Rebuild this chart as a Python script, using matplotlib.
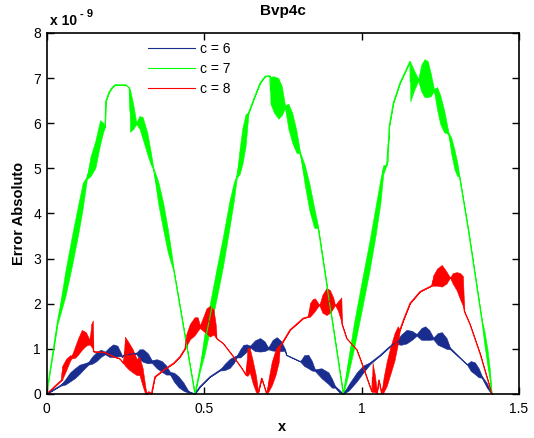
import matplotlib
matplotlib.use('Agg')
import matplotlib.pyplot as plt
import numpy as np

plt.rcParams['font.family'] = ['Liberation Sans', 'DejaVu Sans']

# ---- data (values in units of 1e-9) ----
# c = 6 : centre line, and half-thickness of the fast-oscillation band
c6_x = [0, 0.043, 0.06, 0.075, 0.09, 0.105, 0.12, 0.133, 0.145, 0.159, 0.172, 0.186, 0.2, 0.212, 0.225, 0.237, 0.24, 0.245, 0.286, 0.295, 0.307, 0.322, 0.334, 0.35, 0.366, 0.38, 0.392, 0.405, 0.419, 0.435, 0.45, 0.471,
        0.487, 0.519, 0.551, 0.566, 0.582, 0.595, 0.604, 0.615, 0.625, 0.636, 0.646, 0.662, 0.678, 0.692, 0.704, 0.718, 0.731, 0.745, 0.757, 0.762, 0.805, 0.818, 0.831, 0.842, 0.852, 0.873, 0.895, 0.906, 0.916, 0.93, 0.942,
        0.96, 0.985, 1.005, 1.027, 1.06, 1.09, 1.106, 1.125, 1.143, 1.16, 1.175, 1.19, 1.202, 1.215, 1.228, 1.242, 1.255, 1.27, 1.281, 1.334, 1.347, 1.36, 1.372, 1.382, 1.398, 1.4137]
c6_y = [0, 0.18, 0.27, 0.38, 0.46, 0.55, 0.62, 0.68, 0.75, 0.83, 0.9, 0.91, 0.93, 0.96, 0.95, 0.87, 0.82, 0.86, 0.9, 0.88, 0.85, 0.79, 0.72, 0.67, 0.61, 0.53, 0.46, 0.37, 0.27, 0.16, 0.05, 0,
        0.16, 0.38, 0.53, 0.6, 0.68, 0.76, 0.83, 0.9, 0.98, 1.02, 1.05, 1.07, 1.09, 1.06, 1.01, 1.08, 1.11, 1.06, 0.98, 0.86, 0.72, 0.74, 0.72, 0.63, 0.53, 0.46, 0.35, 0.24, 0.16, 0.06, 0,
        0.15, 0.38, 0.55, 0.68, 0.86, 1.05, 1.12, 1.2, 1.27, 1.3, 1.31, 1.33, 1.35, 1.31, 1.23, 1.22, 1.21, 1.12, 1.01, 0.66, 0.62, 0.57, 0.47, 0.38, 0.19, 0]
c6_w = [0, 0, 0.06, 0.1, 0.11, 0.1, 0.06, 0.03, 0.08, 0.1, 0.08, 0.03, 0.11, 0.14, 0.12, 0.03, 0, 0, 0.02, 0.11, 0.14, 0.11, 0.03, 0.1, 0.12, 0.1, 0.03, 0.1, 0.12, 0.09, 0.02, 0,
        0, 0, 0.01, 0.07, 0.1, 0.07, 0.02, 0.09, 0.11, 0.08, 0.02, 0.12, 0.15, 0.11, 0.02, 0.12, 0.15, 0.11, 0.02, 0, 0, 0.12, 0.15, 0.11, 0.02, 0.11, 0.13, 0.1, 0.02, 0.03, 0,
        0.07, 0.1, 0.08, 0.02, 0, 0, 0, 0.11, 0.15, 0.1, 0.02, 0.13, 0.15, 0.11, 0.02, 0.13, 0.16, 0.12, 0.02, 0, 0.11, 0.13, 0.1, 0.02, 0.05, 0]

# c = 7
c7_x = [0, 0.035, 0.06, 0.08, 0.1, 0.115, 0.128, 0.14, 0.155, 0.17, 0.18, 0.186, 0.188, 0.198, 0.207, 0.217, 0.252, 0.263, 0.265, 0.275, 0.285, 0.295, 0.305, 0.32, 0.33, 0.339, 0.355, 0.37, 0.385, 0.395, 0.405,
        0.471, 0.487, 0.5, 0.52, 0.54, 0.56, 0.58, 0.595, 0.604, 0.613, 0.622, 0.632, 0.641, 0.657, 0.678, 0.694, 0.709, 0.711, 0.722, 0.736, 0.747, 0.757, 0.768, 0.78, 0.793, 0.805, 0.82, 0.835, 0.85, 0.862,
        0.942, 0.955, 0.975, 1.0, 1.025, 1.045, 1.06, 1.069, 1.08, 1.083, 1.086, 1.088, 1.101, 1.122, 1.154, 1.155, 1.167, 1.18, 1.19, 1.2, 1.21, 1.22, 1.23, 1.24, 1.25, 1.262, 1.276, 1.285, 1.295, 1.304, 1.311, 1.339, 1.382, 1.39, 1.4, 1.407, 1.4137]
c7_y = [0, 1.6, 2.45, 3.15, 3.85, 4.4, 4.79, 5.05, 5.31, 5.8, 5.91, 5.92, 6.48, 6.68, 6.78, 6.85, 6.85, 6.78, 6.28, 6.15, 6.0, 6.02, 5.9, 5.55, 5.25, 5.0, 4.45, 3.95, 3.4, 3.05, 2.7,
        0, 0.55, 1.05, 1.75, 2.45, 3.15, 3.95, 4.5, 4.82, 5.15, 5.5, 5.85, 6.22, 6.52, 6.89, 7.04, 7.05, 6.73, 6.64, 6.55, 6.5, 6.37, 6.15, 5.9, 5.6, 5.34, 4.85, 4.35, 3.9, 3.7,
        0, 0.5, 1.25, 2.15, 3.05, 3.85, 4.5, 4.97, 5.08, 5.35, 5.63, 5.93, 6.45, 6.89, 7.37, 6.92, 6.95, 6.96, 7.0, 7.0, 6.98, 6.85, 6.74, 6.55, 6.3, 6.05, 5.78, 5.5, 5.2, 4.98, 4.82, 3.64, 1.64, 1.25, 0.8, 0.45, 0]
c7_w = [0, 0.05, 0.28, 0.33, 0.33, 0.28, 0.03, 0.22, 0.3, 0.27, 0.1, 0, 0, 0, 0, 0, 0, 0, 0.47, 0.28, 0.02, 0.14, 0.24, 0.24, 0.15, 0.02, 0.25, 0.3, 0.26, 0.15, 0,
        0, 0.05, 0.22, 0.3, 0.33, 0.33, 0.3, 0.2, 0.03, 0.28, 0.4, 0.35, 0.02, 0, 0, 0, 0, 0.3, 0.4, 0.45, 0.32, 0.03, 0.28, 0.33, 0.25, 0.02, 0.22, 0.3, 0.22, 0.02,
        0, 0.15, 0.28, 0.32, 0.33, 0.32, 0.26, 0.1, 0, 0.2, 0, 0, 0, 0, 0, 0.44, 0.22, 0.02, 0.3, 0.42, 0.4, 0.25, 0.02, 0.25, 0.32, 0.25, 0.02, 0.18, 0.22, 0.15, 0, 0, 0, 0.15, 0.18, 0.12, 0]

# c = 8
c8_x = [0, 0.048, 0.049, 0.062, 0.075, 0.08, 0.09, 0.1, 0.112, 0.125, 0.137, 0.142, 0.147, 0.149,
        0.17, 0.186, 0.212, 0.233, 0.244, 0.249, 0.26, 0.273, 0.286, 0.295, 0.305, 0.314, 0.318, 0.325, 0.333, 0.344, 0.371, 0.403, 0.424, 0.44,
        0.443, 0.455, 0.47, 0.48, 0.487, 0.497, 0.508, 0.519, 0.53, 0.537, 0.54, 0.561, 0.593, 0.62, 0.633,
        0.638, 0.645, 0.655, 0.665, 0.672, 0.683, 0.699, 0.705, 0.715, 0.727, 0.737, 0.741, 0.773, 0.815, 0.831,
        0.836, 0.845, 0.852, 0.86, 0.866, 0.876, 0.889, 0.9, 0.91, 0.916, 0.925, 0.936, 0.938, 0.953, 0.985, 1.0, 1.025, 1.033,
        1.035, 1.043, 1.049, 1.055, 1.064,
        1.07, 1.08, 1.092, 1.105, 1.115, 1.122, 1.133, 1.154, 1.186, 1.223, 1.227, 1.24, 1.255, 1.27, 1.281, 1.29, 1.302, 1.313, 1.322, 1.326, 1.329, 1.344, 1.376, 1.4137]
c8_y = [0, 0.31, 0.46, 0.65, 0.8, 0.82, 0.92, 1.05, 1.2, 1.22, 1.15, 1.3, 1.32, 0.94,
        0.93, 0.92, 0.83, 0.78, 0.68, 0.95, 0.85, 0.74, 0.6, 0.62, 0.38, 0.07, 0, 0.05, 0, 0.38, 0.53, 0.68, 0.83, 1.01,
        1.18, 1.38, 1.5, 1.55, 1.49, 1.55, 1.62, 1.61, 1.6, 1.4, 1.23, 1.12, 0.83, 0.57, 0.42,
        0.72, 0.75, 0.48, 0.22, 0.03, 0.35, 0, 0.2, 0.45, 0.7, 0.9, 1.05, 1.42, 1.68, 1.71,
        1.86, 1.94, 1.98, 1.98, 1.97, 2.0, 2.05, 2.05, 2.02, 1.97, 1.95, 1.87, 1.55, 1.23, 0.98, 0.7, 0.2, 0.05,
        0.37, 0.22, 0.02, 0.31, 0,
        0.2, 0.45, 0.75, 1.05, 1.3, 1.42, 1.64, 2.01, 2.27, 2.4, 2.51, 2.59, 2.62, 2.58, 2.58, 2.56, 2.5, 2.39, 2.28, 1.85, 1.79, 1.55, 0.9, 0]
c8_w = [0, 0, 0.15, 0.13, 0.06, 0.03, 0.12, 0.18, 0.22, 0.15, 0.05, 0.25, 0.31, 0,
        0, 0, 0, 0, 0, 0.32, 0.3, 0.26, 0.18, 0.2, 0.2, 0.08, 0, 0, 0, 0, 0, 0, 0, 0,
        0.13, 0.17, 0.2, 0.15, 0.03, 0.15, 0.28, 0.34, 0.28, 0.15, 0, 0, 0, 0, 0,
        0.32, 0.27, 0.25, 0.18, 0, 0, 0, 0.14, 0.26, 0.28, 0.2, 0, 0, 0, 0,
        0.15, 0.16, 0.14, 0.06, 0, 0.2, 0.3, 0.25, 0.12, 0, 0.1, 0.27, 0, 0, 0, 0, 0, 0,
        0.32, 0.18, 0, 0, 0,
        0.16, 0.27, 0.3, 0.3, 0.2, 0, 0, 0, 0, 0, 0.11, 0.19, 0.24, 0.13, 0, 0.12, 0.2, 0.29, 0.33, 0, 0, 0, 0, 0]

labels = ['c = 6', 'c = 7', 'c = 8']
colors = ['#182d8e', '#00ff00', '#ff0000']
x_ticks = [0, 0.5, 1, 1.5]
x_tick_labels = ['0', '0.5', '1', '1.5']
y_ticks = [0, 1, 2, 3, 4, 5, 6, 7, 8]

# ---- figure ----
fig = plt.figure(figsize=(5.34, 4.38), dpi=100)
ax = fig.add_axes([0.0871, 0.1005, 0.8848, 0.8242])

series = [(c6_x, c6_y, c6_w), (c7_x, c7_y, c7_w), (c8_x, c8_y, c8_w)]
for (sx, sy, sw), col, lab in zip(series, colors, labels):
    sx = np.asarray(sx, float)
    sy = np.asarray(sy, float)
    sw = np.asarray(sw, float)
    ax.fill_between(sx, sy - sw, sy + sw, facecolor=col, edgecolor=col, lw=0.4)
    ax.plot(sx, sy, color=col, lw=0.8, label=lab)

ax.set_xlim(0, 1.5)
ax.set_ylim(0, 8)
ax.set_xticks(x_ticks)
ax.set_xticklabels(x_tick_labels)
ax.set_yticks(y_ticks)
ax.tick_params(direction='in', top=True, right=True, length=5, width=1, labelsize=10)
ax.tick_params(axis='x', pad=6)
ax.tick_params(axis='y', pad=4)
for sp in ax.spines.values():
    sp.set_linewidth(1.2)

ax.legend(loc='upper left', bbox_to_anchor=(0.215, 0.975), frameon=False, fontsize=10,
          handlelength=3.4, handletextpad=0.35, labelspacing=0.42, borderpad=0, borderaxespad=0)

fig.text(283 / 534, 1 - 11 / 438, 'Bvp4c', ha='center', va='center', fontweight='bold', fontsize=11)
fig.text(282 / 534, 1 - 427 / 438, 'x', ha='center', va='center', fontweight='bold', fontsize=10.5)
fig.text(19 / 534, 1 - 213 / 438, 'Error Absoluto', ha='center', va='center', rotation=90,
         fontweight='bold', fontsize=10.5)
fig.text(50 / 534, 1 - 25 / 438, 'x 10', ha='left', va='baseline', fontweight='bold', fontsize=10)
fig.text(80 / 534, 1 - 17 / 438, '- 9', ha='left', va='baseline', fontweight='bold', fontsize=8)

fig.savefig('out.png', dpi=100)
